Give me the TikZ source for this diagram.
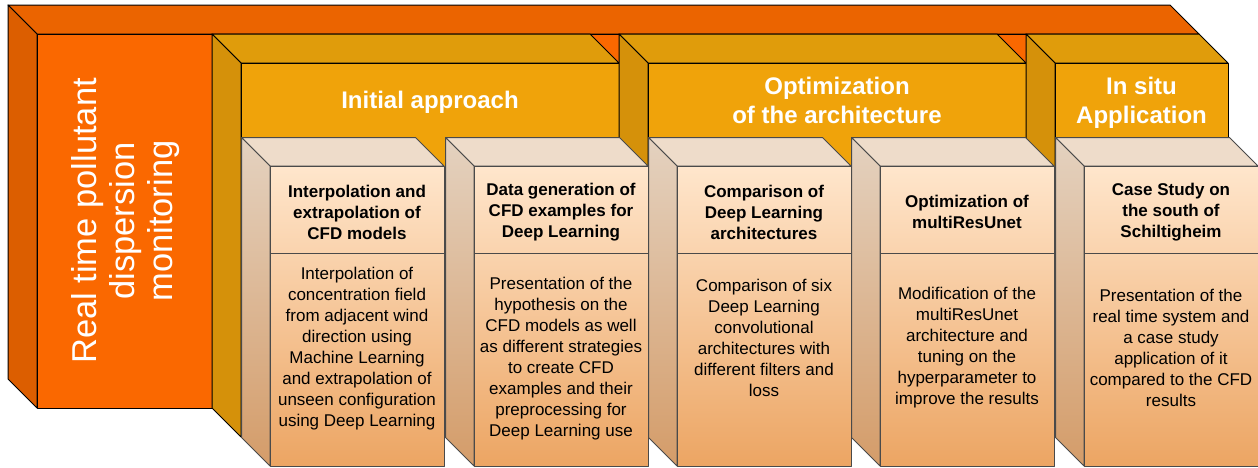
\documentclass[tikz,border=0pt]{standalone}
\usepackage{fontspec}
\setmainfont{Liberation Sans}
\usepackage{tikz}
\definecolor{ortopcol}{HTML}{EB6400}
\definecolor{orsidecol}{HTML}{DC5E00}
\definecolor{orfrontcol}{HTML}{FA6800}
\definecolor{gdtopcol}{HTML}{E09C0B}
\definecolor{gdsidecol}{HTML}{D5910A}
\definecolor{gdfrontcol}{HTML}{F0A30A}
\definecolor{pctopcol}{HTML}{EEDCCA}
\definecolor{pcsidetopcol}{HTML}{E4D2C0}
\definecolor{pcsidebotcol}{HTML}{D49C69}
\definecolor{pcfronttopcol}{HTML}{FFE6CC}
\definecolor{pcfrontbotcol}{HTML}{ECA563}
\definecolor{pclinecol}{HTML}{4A4A4A}

\begin{document}
\begin{tikzpicture}[x=1pt,y=-1pt,line join=round,
  ortop/.style={fill=ortopcol,draw=black,line width=1pt},
  orside/.style={fill=orsidecol,draw=black,line width=1pt},
  orfront/.style={fill=orfrontcol,draw=black,line width=1pt},
  gdtop/.style={fill=gdtopcol,draw=black,line width=1pt},
  gdside/.style={fill=gdsidecol,draw=black,line width=1pt},
  gdfront/.style={fill=gdfrontcol,draw=black,line width=1pt},
  pctop/.style={fill=pctopcol,draw=pclinecol,line width=1pt},
  pcside/.style={top color=pcsidetopcol,bottom color=pcsidebotcol,draw=pclinecol,line width=1pt},
  pcfront/.style={top color=pcfronttopcol,bottom color=pcfrontbotcol,draw=pclinecol,line width=1pt},
  titletext/.style={text=white,align=center,rotate=90,inner sep=0pt,font=\fontsize{34.5}{38}\selectfont},
  grouptext/.style={text=white,align=center,inner sep=0pt,font=\bfseries\fontsize{24}{29}\selectfont},
  headtext/.style={align=center,inner sep=0pt,font=\bfseries\fontsize{17}{21}\selectfont},
  bodytext/.style={align=center,inner sep=0pt,font=\fontsize{17}{21}\selectfont}]
\useasboundingbox (0,0) rectangle (1258,467);
%
\draw[ortop] (8,5) -- (1170,5) -- (1199,34) -- (37,34) -- cycle;
\draw[orside] (8,5) -- (37,34) -- (37,408) -- (8,379) -- cycle;
\draw[orfront] (37,34) rectangle (1199,408);
\node[titletext] (title) at (126,221) {Real time pollutant\\dispersion\\monitoring};
%
\draw[gdtop] (212,34) -- (590,34) -- (619,63) -- (241,63) -- cycle;
\draw[gdside] (212,34) -- (241,63) -- (241,437) -- (212,408) -- cycle;
\draw[gdfront] (241,63) rectangle (619,437);
\node[grouptext] (initial) at (430,102) {Initial approach};
%
\draw[gdtop] (619,34) -- (997,34) -- (1026,63) -- (648,63) -- cycle;
\draw[gdside] (619,34) -- (648,63) -- (648,437) -- (619,408) -- cycle;
\draw[gdfront] (648,63) rectangle (1026,437);
\node[grouptext] (optim) at (837,100) {Optimization\\of the architecture};
%
\draw[gdtop] (1026,34) -- (1199,34) -- (1228,63) -- (1055,63) -- cycle;
\draw[gdside] (1026,34) -- (1055,63) -- (1055,437) -- (1026,408) -- cycle;
\draw[gdfront] (1055,63) rectangle (1228,437);
\node[grouptext] (insitu) at (1141.5,103) {In situ\\Application};
%
\draw[pctop] (241.5,137.5) -- (415.5,137.5) -- (444,166) -- (270,166) -- cycle;
\draw[pcside] (241.5,137.5) -- (270,166) -- (270,466) -- (241.5,437.5) -- cycle;
\draw[pcfront] (270,166) rectangle (444,466);
\draw[pclinecol,line width=1pt] (270,253) -- (444,253);
\node[headtext] (interphead) at (357,212) {Interpolation and\\extrapolation of\\CFD models};
\node[bodytext] (interpbody) at (357,349) {Interpolation of\\concentration field\\from adjacent wind\\direction using\\Machine Learning\\and extrapolation of\\unseen configuration\\using Deep Learning};
%
\draw[pctop] (445.5,137.5) -- (619.5,137.5) -- (648,166) -- (474,166) -- cycle;
\draw[pcside] (445.5,137.5) -- (474,166) -- (474,466) -- (445.5,437.5) -- cycle;
\draw[pcfront] (474,166) rectangle (648,466);
\draw[pclinecol,line width=1pt] (474,253) -- (648,253);
\node[headtext] (datahead) at (561,212) {Data generation of\\CFD examples for\\Deep Learning};
\node[bodytext] (databody) at (561,359) {Presentation of the\\hypothesis on the\\CFD models as well\\as different strategies\\to create CFD\\examples and their\\preprocessing for\\Deep Learning use};
%
\draw[pctop] (648.5,137.5) -- (822.5,137.5) -- (851,166) -- (677,166) -- cycle;
\draw[pcside] (648.5,137.5) -- (677,166) -- (677,466) -- (648.5,437.5) -- cycle;
\draw[pcfront] (677,166) rectangle (851,466);
\draw[pclinecol,line width=1pt] (677,253) -- (851,253);
\node[headtext] (comphead) at (764,212) {Comparison of\\Deep Learning\\architectures};
\node[bodytext] (compbody) at (764,338) {Comparison of six\\Deep Learning\\convolutional\\architectures with\\different filters and\\loss};
%
\draw[pctop] (851.5,137.5) -- (1025.5,137.5) -- (1054,166) -- (880,166) -- cycle;
\draw[pcside] (851.5,137.5) -- (880,166) -- (880,466) -- (851.5,437.5) -- cycle;
\draw[pcfront] (880,166) rectangle (1054,466);
\draw[pclinecol,line width=1pt] (880,253) -- (1054,253);
\node[headtext] (opthead) at (967,212) {Optimization of\\multiResUnet};
\node[bodytext] (optbody) at (967,348) {Modification of the\\multiResUnet\\architecture and\\tuning on the\\hyperparameter to\\improve the results};
%
\draw[pctop] (1055.5,137.5) -- (1229.5,137.5) -- (1258,166) -- (1084,166) -- cycle;
\draw[pcside] (1055.5,137.5) -- (1084,166) -- (1084,466) -- (1055.5,437.5) -- cycle;
\draw[pcfront] (1084,166) rectangle (1258,466);
\draw[pclinecol,line width=1pt] (1084,253) -- (1258,253);
\node[headtext] (casehead) at (1171,212) {Case Study on\\the south of\\Schiltigheim};
\node[bodytext] (casebody) at (1171,348) {Presentation of the\\real time system and\\a case study\\application of it\\compared to the CFD\\results};
\end{tikzpicture}
\end{document}
